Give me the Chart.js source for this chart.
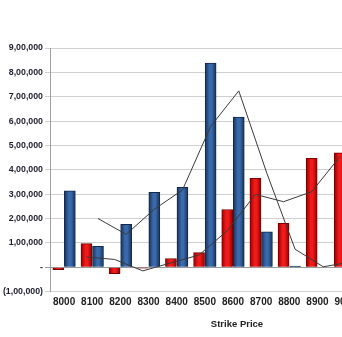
<!DOCTYPE html>
<html><head><meta charset="utf-8">
<script src="https://cdn.jsdelivr.net/npm/chart.js@4"></script>
<style>
html,body{margin:0;padding:0;overflow:hidden;background:#fff;width:342px;height:337px}
#wrap{position:relative;width:474px;height:337px}
</style></head>
<body><div id="wrap"><canvas id="c" width="474" height="337"></canvas></div>
<script>
const categories = ['8000','8100','8200','8300','8400','8500','8600','8700','8800','8900','9000','9100','9200'];
const redSeries  = [-10000, 97000, -26000, -4000, 36000, 60000, 237000, 365000, 180000, 447000, 470000, null, null];
const blueSeries = [314000, 86000, 176000, 307000, 328000, 838000, 616000, 145000, 5000, 0, 40000, null, null];
const blueTrend  = [null, 200000, 135000, 238000, 317000, 578000, 724000, 385000, 74000, 2000, 22000, null, null];
const redTrend   = [null, 42000, 32000, -15000, 18000, 50000, 150000, 299000, 269000, 310000, 454000, null, null];
const yTickLabels = ['(1,00,000)','-','1,00,000','2,00,000','3,00,000','4,00,000','5,00,000','6,00,000','7,00,000','8,00,000','9,00,000'];

// each series sits left/right of the category centre (like a grouped column chart)
const GROUP_PCT = 0.82;
const shift = GROUP_PCT / 4;

function barFill(edge, mid, fallback){
  return (ctx) => {
    if (ctx.type !== 'data') return fallback;
    const el = ctx.chart.getDatasetMeta(ctx.datasetIndex).data[ctx.dataIndex];
    if (!el || !isFinite(el.x) || !el.width) return fallback;
    const g = ctx.chart.ctx.createLinearGradient(el.x - el.width/2, 0, el.x + el.width/2, 0);
    g.addColorStop(0, edge);
    g.addColorStop(0.4, mid);
    g.addColorStop(0.6, mid);
    g.addColorStop(1, edge);
    return g;
  };
}
const place = (arr, off) => arr.map((v,i) => ({x: i + off, y: v}));
const fontFam = '"Liberation Sans", Arial, sans-serif';

const chart = new Chart(document.getElementById('c'), {
  type: 'bar',
  data: {
    labels: categories,
    datasets: [
      {label:'Red', data: place(redSeries, -shift), xAxisID:'xl', yAxisID:'y', order:2, grouped:false,
       barThickness:11,
       backgroundColor: barFill('#950000','#f01a1a','#d00000'), borderColor:'#7a0000', borderWidth:1},
      {label:'Blue', data: place(blueSeries, shift), xAxisID:'xl', yAxisID:'y', order:2, grouped:false,
       barThickness:11,
       backgroundColor: barFill('#15325a','#3a6aab','#2a5590'), borderColor:'#112a4c', borderWidth:1},
      {type:'line', label:'Blue trend', data: place(blueTrend, shift), xAxisID:'xl', yAxisID:'y', order:1,
       borderColor:'#3a3a3a', borderWidth:1, pointRadius:0, tension:0, fill:false},
      {type:'line', label:'Red trend', data: place(redTrend, -shift), xAxisID:'xl', yAxisID:'y', order:1,
       borderColor:'#3a3a3a', borderWidth:1, pointRadius:0, tension:0, fill:false}
    ]
  },
  options: {
    responsive:false, animation:false, devicePixelRatio:1,
    layout:{padding:{top:48, left:0, right:0, bottom:0}},
    plugins:{
      legend:{display:false}, tooltip:{enabled:false},
      title:{display:true, position:'bottom', text:'Strike Price', color:'#222',
        font:{family:fontFam, weight:'bold', size:9.5}, padding:{top:10, bottom:7}}
    },
    scales:{
      x:{type:'category', position:'bottom', offset:true, grid:{display:false, drawTicks:false}, border:{display:false},
         ticks:{font:{family:fontFam, weight:'bold', size:10}, color:'#222', padding:5, maxRotation:0, autoSkip:false},
         afterFit:(s) => { s.height = 17; }},
      xl:{type:'linear', display:false, offset:false, bounds:'data', min:-0.5, max:categories.length - 0.5},
      y:{min:-100000, max:900000,
         ticks:{stepSize:100000, font:{family:fontFam, weight:'bold', size:8.8}, color:'#1e1e2e', padding:2,
                callback:(v,i) => yTickLabels[i]},
         grid:{color:(c) => (c.tick && c.tick.value === 0) ? '#9a9a9a' : '#d0d0d0', tickLength:5},
         border:{color:'#a0a0a0'},
         afterFit:(s) => { s.width = 50; }},
      y2:{position:'right', display:true, grid:{display:false}, border:{display:false},
          ticks:{display:false}, afterFit:(s) => { s.width = 58; }}
    }
  }
});
chart.update('none');
</script>
</body></html>
